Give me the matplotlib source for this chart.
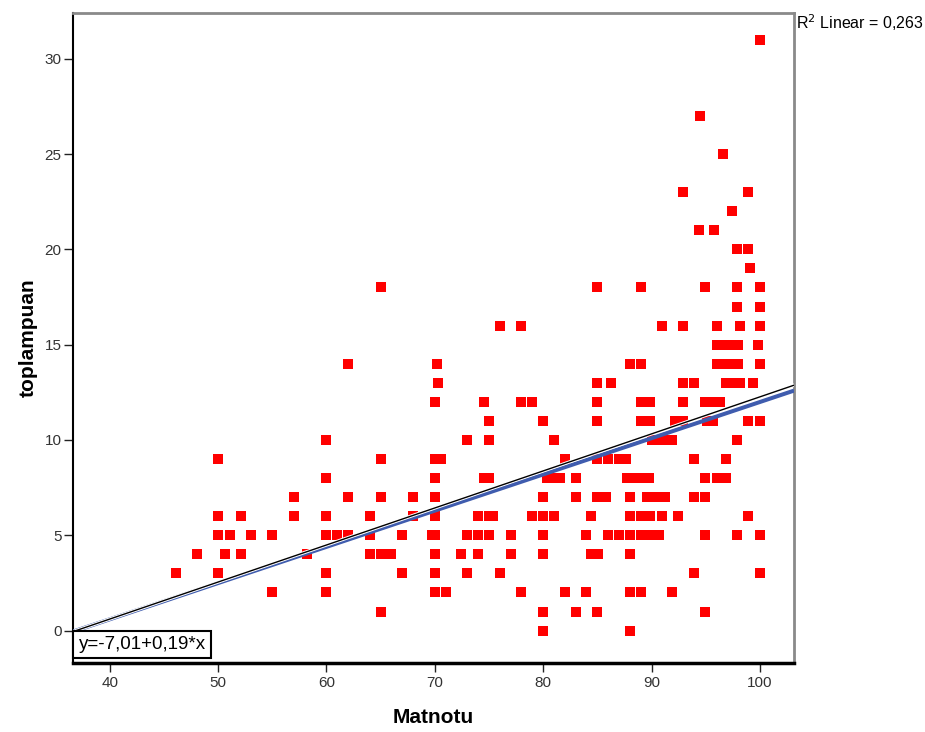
import matplotlib
matplotlib.use("Agg")
import matplotlib.pyplot as plt
import matplotlib.patheffects as pe
import numpy as np

plt.rcParams['font.family'] = ['Liberation Sans', 'DejaVu Sans']

# ---- data (Matnotu, toplampuan) ----
matnotu_a = [46.1, 48.1, 50, 50, 50, 50, 50.6, 51.1, 52.1, 52.1, 53, 55, 55, 57, 57, 58.2]
toplam_a  = [3,    4,    9,    6,    5,    3,    4,    5,    6,    4,    5,    5,    2,    7,    6,    4]

matnotu_b = [65, 76, 78, 62, 70.2, 70.3, 70, 74.5, 78, 79, 75, 80, 60, 73, 75, 65, 70, 70.6,
             60, 70, 74.5, 75, 62, 65, 68, 70, 80, 60, 64, 68, 70, 74, 75, 75.4, 79, 80,
             60, 61, 62, 64, 67, 69.7, 70, 73, 74, 75, 77, 80,
             64, 65, 66, 70, 72.4, 74, 77, 80,
             60, 67, 70, 73, 76,
             60, 70, 71, 78,
             65, 80, 80]
toplam_b  = [18, 16, 16, 14, 14, 13, 12, 12, 12, 12, 11, 11, 10, 10, 10, 9, 9, 9,
             8, 8, 8, 8, 7, 7, 7, 7, 7, 6, 6, 6, 6, 6, 6, 6, 6, 6,
             5, 5, 5, 5, 5, 5, 5, 5, 5, 5, 5, 5,
             4, 4, 4, 4, 4, 4, 4, 4,
             3, 3, 3, 3, 3,
             2, 2, 2, 2,
             1, 1, 0]

matnotu_c = [85, 88, 85, 86.3, 85, 85, 81, 82, 85, 86, 87, 87.6,
             80.4, 81, 81.6, 83, 87.7, 88.1, 83, 85, 85.8, 88, 81, 84.4, 88,
             84, 86, 87, 88, 84.4, 85.1, 88, 82, 84, 88, 83, 85, 88]
toplam_c  = [18, 14, 13, 13, 12, 11, 10, 9, 9, 9, 9, 9,
             8, 8, 8, 8, 8, 8, 7, 7, 7, 7, 6, 6, 6,
             5, 5, 5, 5, 4, 4, 4, 2, 2, 2, 1, 1, 0]

matnotu_d = [100, 94.5, 96.6, 92.9, 98.9, 97.4, 94.4, 95.8, 97.9, 98.9, 99.1,
             89, 94.9, 97.9, 100, 97.9, 100, 91, 92.9, 96, 98.2, 100,
             96, 96.9, 97.5, 98, 99.8, 89, 96, 96.9, 97.5, 98, 100]
toplam_d  = [31, 27, 25, 23, 23, 22, 21, 21, 20, 20, 19,
             18, 18, 18, 18, 17, 17, 16, 16, 16, 16, 16,
             15, 15, 15, 15, 15, 14, 14, 14, 14, 14, 14]

matnotu_e = [92.9, 93.9, 96.9, 97.6, 98.2, 99.4,
             89, 89.9, 92.9, 94.9, 95.6, 96.3,
             89, 89.9, 92.2, 92.9, 95.1, 95.7, 98.9, 100,
             90, 91, 91.9, 97.9,
             93.9, 96.9,
             89, 89.8, 94.9, 96, 96.9,
             89.6, 90.4, 91.2, 93.9, 94.9,
             89, 89.9, 91, 92.4, 98.9,
             89, 89.9, 90.7, 94.9, 97.9, 100,
             93.9, 100,
             89, 91.9,
             94.9]
toplam_e  = [13, 13, 13, 13, 13, 13,
             12, 12, 12, 12, 12, 12,
             11, 11, 11, 11, 11, 11, 11, 11,
             10, 10, 10, 10,
             9, 9,
             8, 8, 8, 8, 8,
             7, 7, 7, 7, 7,
             6, 6, 6, 6, 6,
             5, 5, 5, 5, 5, 5,
             3, 3,
             2, 2,
             1]

matnotu = np.array(matnotu_a + matnotu_b + matnotu_c + matnotu_d + matnotu_e)
toplampuan = np.array(toplam_a + toplam_b + toplam_c + toplam_d + toplam_e)

fit_intercept = -7.01
fit_slope = 0.19
ref_intercept = -7.17
ref_slope = 0.1943
r2_text = "R$^2$ Linear = 0,263"
eq_text = "y=-7,01+0,19*x"
x_ticks = [40, 50, 60, 70, 80, 90, 100]
y_ticks = [0, 5, 10, 15, 20, 25, 30]

# ---- figure ----
fig = plt.figure(figsize=(9.25, 7.32), dpi=100)
ax = fig.add_axes([0.0792, 0.0943, 0.7792, 0.8880])
xmin, xmax = 36.64, 103.15
ax.set_xlim(xmin, xmax)
ax.set_ylim(-1.7, 32.4)

ax.scatter(matnotu, toplampuan, marker='s', s=50, color='#ff0000', linewidths=0, zorder=3)

xs = np.array([xmin, xmax])
ax.plot(xs, fit_intercept + fit_slope * xs, color='#3f5cae', lw=2.9, zorder=4,
        solid_capstyle='butt')
ax.plot(xs, ref_intercept + ref_slope * xs, color='black', lw=1.0, zorder=5,
        path_effects=[pe.Stroke(linewidth=2.4, foreground='white'), pe.Normal()])

ax.set_xticks(x_ticks)
ax.set_yticks(y_ticks)
ax.tick_params(axis='both', direction='out', length=6.5, width=1, colors='#222222',
               labelsize=11, labelcolor='#333333')
ax.tick_params(axis='x', pad=3)
ax.tick_params(axis='y', pad=2)

for side in ['top', 'right']:
    ax.spines[side].set_color('#8a8a8a')
    ax.spines[side].set_linewidth(2)
ax.spines['left'].set_color('black')
ax.spines['left'].set_linewidth(1.5)
ax.spines['bottom'].set_color('black')
ax.spines['bottom'].set_linewidth(2.5)

ax.set_xlabel('Matnotu', fontsize=15, fontweight='bold', labelpad=13)
ax.set_ylabel('toplampuan', fontsize=15, fontweight='bold', labelpad=5)

ax.annotate(eq_text, xy=(xmin, 0), xytext=(3.8, -3.8), textcoords='offset points',
            ha='left', va='top', fontsize=13.5, zorder=6,
            bbox=dict(boxstyle='square,pad=0.27', facecolor='white', edgecolor='black', lw=1.5))

fig.text(0.861, 0.969, r2_text, ha='left', va='center', fontsize=11.5)

fig.savefig('out.png', dpi=100)
